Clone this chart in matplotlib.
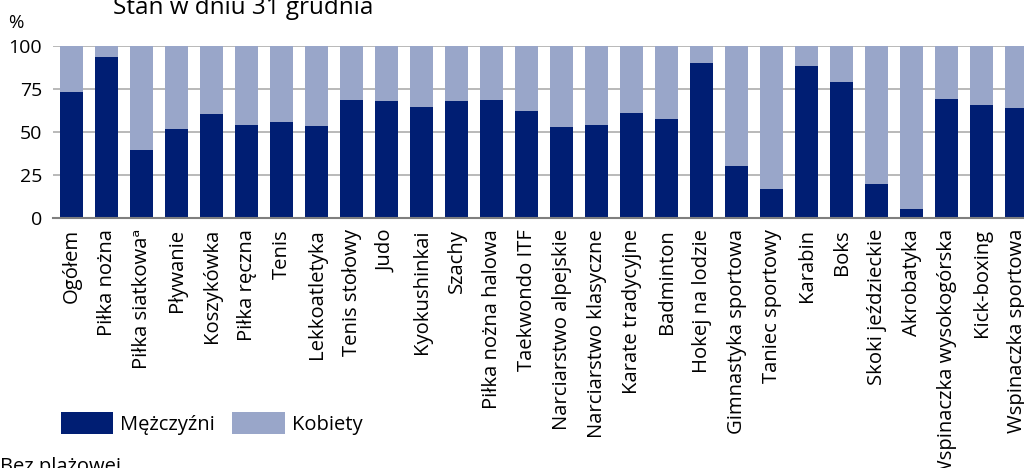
import numpy as np
import matplotlib
matplotlib.use("Agg")
import matplotlib.pyplot as plt

# Dane: udział mężczyzn i kobiet (%) wśród ćwiczących
categories = ['Ogółem', 'Piłka nożna', 'Piłka siatkowa\u1d43', 'Pływanie', 'Koszykówka',
              'Piłka ręczna', 'Tenis', 'Lekkoatletyka', 'Tenis stołowy', 'Judo',
              'Kyokushinkai', 'Szachy', 'Piłka nożna halowa', 'Taekwondo ITF',
              'Narciarstwo alpejskie', 'Narciarstwo klasyczne', 'Karate tradycyjne',
              'Badminton', 'Hokej na lodzie', 'Gimnastyka sportowa', 'Taniec sportowy',
              'Karabin', 'Boks', 'Skoki jeździeckie', 'Akrobatyka',
              'Wspinaczka wysokogórska', 'Kick-boxing', 'Wspinaczka sportowa']
men = [73.5, 93.6, 39.5, 51.7, 60.5, 54.1, 56.0, 53.7, 68.6, 68.0,
       64.7, 67.8, 68.6, 62.3, 53.0, 54.1, 61.0, 57.6, 90.3, 30.3,
       16.9, 88.5, 79.0, 19.8, 5.4, 69.0, 65.5, 64.1]
women = [100 - m for m in men]

dark = '#001e73'
light = '#99a6c9'

plt.rcParams['font.family'] = ['Open Sans', 'DejaVu Sans']

fig = plt.figure(figsize=(10.24, 4.68), dpi=100)
ax = fig.add_axes([53 / 1024, 1 - 218 / 468, 981 / 1024, 172 / 468])

x = np.arange(len(categories))
ax.bar(x, men, width=0.66, color=dark, label='Mężczyźni', zorder=2)
ax.bar(x, women, width=0.66, bottom=men, color=light, label='Kobiety', zorder=2)

ax.set_xlim(-0.53, 27.5)
ax.set_ylim(0, 100)
ax.set_yticks([0, 25, 50, 75, 100])
ax.yaxis.grid(True, color='#a6a6a6', linewidth=1.1, zorder=0)
ax.set_axisbelow(True)
for s in ['top', 'right', 'left']:
    ax.spines[s].set_visible(False)
ax.spines['bottom'].set_color('#7f7f7f')
ax.spines['bottom'].set_linewidth(1.5)

ax.set_xticks(x)
ax.set_xticklabels(categories, rotation=90, fontsize=14.6, va='top', ha='center')
ax.tick_params(axis='x', length=0, pad=8)
ax.tick_params(axis='y', length=0, pad=8, labelsize=14)

fig.text(113 / 1024, 1 - 14 / 468, 'Stan w dniu 31 grudnia', fontsize=17.5,
         ha='left', va='baseline')
fig.text(8 / 1024, 1 - 28 / 468, '%', fontsize=13.5, ha='left', va='baseline')
fig.text(0, 1 - 472 / 468, 'Bez plażowej', fontsize=14.5, ha='left', va='baseline')

fig.legend(loc='upper left', bbox_to_anchor=(61 / 1024, 1 - 412 / 468),
           bbox_transform=fig.transFigure, ncol=2, frameon=False, fontsize=14.5,
           borderpad=0, borderaxespad=0, handlelength=2.6, handleheight=1.3,
           handletextpad=0.35, columnspacing=0.85)

fig.savefig('out.png', dpi=100)
